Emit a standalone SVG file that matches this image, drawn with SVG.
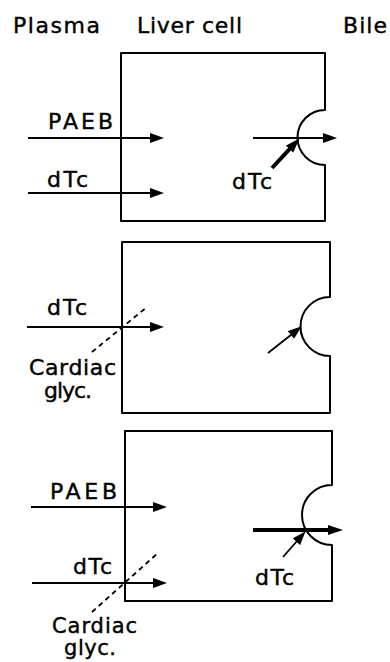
<svg xmlns="http://www.w3.org/2000/svg" width="390" height="662" viewBox="0 0 390 662">
<style>
text{font-family:"DejaVu Sans","Liberation Sans",sans-serif;font-size:22px;fill:#000;stroke:#000;stroke-width:0.4}
text.sm{font-size:21px}
.box{fill:none;stroke:#000;stroke-width:2;stroke-linejoin:round}
.ar{stroke:#000;stroke-width:1.8;fill:none;marker-end:url(#ah)}
.tk{stroke:#000;stroke-width:4;fill:none;marker-end:url(#ahT)}
.ds{stroke:#000;stroke-width:1.8;stroke-dasharray:5 4;fill:none}
</style>
<defs>
<marker id="ah" markerUnits="userSpaceOnUse" markerWidth="15" markerHeight="11" refX="7" refY="5.5" orient="auto"><path d="M0,0.5 L14,5.5 L0,10.5 z" fill="#000"/></marker>
<marker id="ahT" markerUnits="userSpaceOnUse" markerWidth="16" markerHeight="11" refX="8" refY="5.5" orient="auto"><path d="M0,0.5 L15,5.5 L0,10.5 z" fill="#000"/></marker>
</defs>
<g id="headers">
<text x="13" y="33" textLength="87" lengthAdjust="spacing">Plasma</text>
<text x="137" y="33" textLength="105" lengthAdjust="spacing">Liver cell</text>
<text x="343" y="33" textLength="44" lengthAdjust="spacing">Bile</text>
</g>
<g id="cell1"><path class="box" d="M121,53 H325 V110 A27.5 27.5 0 0 0 325,165 V221 H121 Z"/></g>
<g id="cell2"><path class="box" d="M122,242 H330 V297 A29.5 29.5 0 0 0 330,356 V413 H122 Z"/></g>
<g id="cell3"><path class="box" d="M125,431 H332 V485 A30 30 0 0 0 332,545 V601 H125 Z"/></g>
<g id="labels1">
<text x="48" y="129" textLength="65" lengthAdjust="spacing">PAEB</text>
<text x="47" y="187" textLength="41" lengthAdjust="spacing">dTc</text>
<text x="232" y="189" textLength="40" lengthAdjust="spacing">dTc</text>
</g>
<g id="labels2">
<text x="47" y="315" textLength="40" lengthAdjust="spacing">dTc</text>
<text x="29" y="375" textLength="87" lengthAdjust="spacing">Cardiac</text>
<text x="44" y="398" textLength="48" lengthAdjust="spacing">glyc.</text>
</g>
<g id="labels3">
<text x="50" y="499" textLength="67" lengthAdjust="spacing">PAEB</text>
<text x="73" y="574" textLength="39" lengthAdjust="spacing">dTc</text>
<text x="255" y="585" textLength="39" lengthAdjust="spacing">dTc</text>
<text class="sm" x="52" y="633" textLength="85" lengthAdjust="spacing">Cardiac</text>
<text class="sm" x="64" y="655" textLength="52" lengthAdjust="spacing">glyc.</text>
</g>
<g id="connectors">
<line class="ar" x1="28" y1="138" x2="157" y2="138"/>
<line class="ar" x1="28" y1="193" x2="157" y2="193"/>
<line class="ar" x1="253" y1="138" x2="330" y2="138"/>
<line class="tk" x1="272" y1="168" x2="294.9" y2="143.4"/>
<line class="ar" x1="27" y1="327" x2="157" y2="327"/>
<line class="ar" x1="268" y1="353" x2="296.3" y2="330.7"/>
<line class="ds" x1="92" y1="352" x2="147" y2="307"/>
<line class="ar" x1="31" y1="507" x2="160" y2="507"/>
<line class="ar" x1="32" y1="583" x2="160" y2="583"/>
<line class="tk" x1="253" y1="530" x2="336" y2="530"/>
<line class="ar" x1="283" y1="557" x2="301" y2="536.5"/>
<line class="ds" x1="92" y1="612" x2="158" y2="553"/>
</g>
</svg>
